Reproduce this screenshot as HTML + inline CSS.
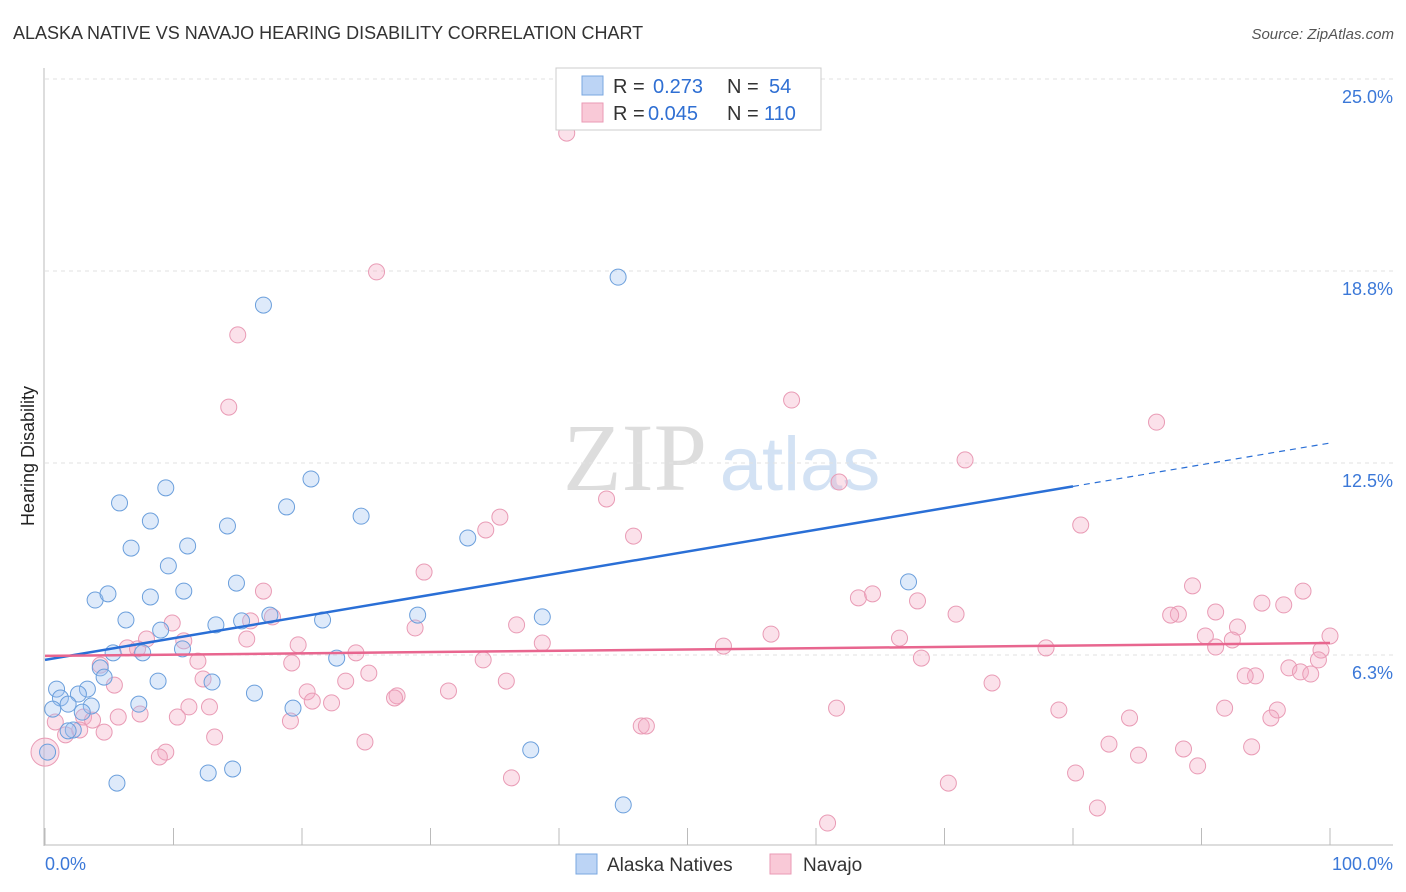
<!DOCTYPE html>
<html><head><meta charset="utf-8"><style>
body{margin:0;background:#fff;font-family:"Liberation Sans",sans-serif;}
svg{display:block}
</style></head><body>
<svg id="chart" width="1406" height="892">
<text x="13" y="39" font-size="18" fill="#333">ALASKA NATIVE VS NAVAJO HEARING DISABILITY CORRELATION CHART</text>
<text x="1394" y="39" font-size="15" fill="#555" font-style="italic" text-anchor="end">Source: ZipAtlas.com</text>
<g>
<text x="635" y="490" font-size="96" fill="#ddd" font-family="Liberation Serif,serif" text-anchor="middle">ZIP</text>
<text x="800" y="490" font-size="76" fill="#d3e2f4" text-anchor="middle">atlas</text>
</g>
<g id="grid"></g><g id="axes"></g><g id="marks"></g>
<text transform="translate(34,456) rotate(-90)" font-size="18" fill="#222" text-anchor="middle">Hearing Disability</text>
<g>
<rect x="556" y="68" width="265" height="62" fill="#fff" stroke="#ccc"/>
<rect x="582" y="76" width="21" height="19" fill="#bcd4f5" stroke="#7aa7e0"/>
<rect x="582" y="103" width="21" height="19" fill="#f9c9d7" stroke="#ea9ab4"/>
<text y="93" font-size="20" fill="#333"><tspan x="613">R =</tspan><tspan x="653" fill="#2f6fd3">0.273</tspan><tspan x="727">N =</tspan><tspan x="769" fill="#2f6fd3">54</tspan></text>
<text y="120" font-size="20" fill="#333"><tspan x="613">R =</tspan><tspan x="648" fill="#2f6fd3">0.045</tspan><tspan x="727">N =</tspan><tspan x="764" fill="#2f6fd3">110</tspan></text>
</g>
<g>
<rect x="576" y="854" width="21" height="20" fill="#bcd4f5" stroke="#7aa7e0"/>
<text x="607" y="871" font-size="19" fill="#333">Alaska Natives</text>
<rect x="770" y="854" width="21" height="20" fill="#f9c9d7" stroke="#ea9ab4"/>
<text x="803" y="871" font-size="19" fill="#333">Navajo</text>
</g>
</svg>
<script>
const yTicks=[6.3,12.5,18.8,25.0];
const yTickVals=[6.25,12.5,18.75,25];
const xTickLabels=["0.0%","100.0%"];
const blueX=[17.0,44.6,9.4,5.8,20.7,8.2,18.8,24.6,14.2,32.9,6.7,11.1,9.6,14.9,67.2,3.9,4.9,8.2,10.8,6.3,17.5,15.3,21.6,29.0,38.7,13.3,9.0,5.3,7.6,10.7,22.7,4.3,4.6,8.8,13.0,0.9,3.3,16.3,2.6,1.2,1.8,3.6,7.3,0.6,19.3,2.9,2.2,1.8,37.8,0.2,12.7,14.6,5.6,45.0];
const blueY=[17.64,18.55,11.69,11.20,11.98,10.61,11.07,10.77,10.45,10.06,9.73,9.80,9.15,8.59,8.63,8.04,8.24,8.14,8.33,7.39,7.55,7.36,7.39,7.55,7.49,7.23,7.06,6.32,6.32,6.45,6.15,5.83,5.53,5.40,5.37,5.14,5.14,5.01,4.98,4.85,4.65,4.59,4.65,4.49,4.52,4.39,3.81,3.78,3.16,3.09,2.41,2.54,2.08,1.37];
const pinkX=[40.6,25.8,15.0,14.3,58.1,86.5,71.6,61.8,43.7,35.4,34.3,80.6,45.8,29.5,17.0,89.3,97.9,63.3,64.4,67.9,94.7,96.4,88.2,87.6,70.9,91.1,17.7,9.9,16.0,28.8,36.7,92.8,7.9,15.7,10.8,19.7,38.7,56.5,90.3,66.5,92.4,77.9,100.0,6.4,7.2,24.2,52.8,91.1,99.3,68.2,34.1,11.9,4.3,19.2,99.1,96.8,97.7,25.2,98.5,94.2,93.4,5.4,12.3,23.4,35.9,73.7,31.4,20.4,27.4,27.2,20.8,22.3,11.2,12.8,61.6,78.9,91.8,95.9,7.4,3.0,5.7,10.3,3.7,19.1,84.4,95.4,46.4,46.8,0.8,4.6,1.6,2.7,13.2,24.9,82.8,9.4,8.9,88.6,93.9,85.1,89.7,80.2,36.3,70.3,81.9,60.9,0.0];
const pinkY=[23.24,18.72,16.67,14.32,14.55,13.83,12.60,11.88,11.33,10.74,10.32,10.48,10.12,8.95,8.33,8.50,8.33,8.11,8.24,8.01,7.94,7.88,7.58,7.55,7.58,7.65,7.49,7.29,7.36,7.13,7.23,7.16,6.77,6.77,6.71,6.58,6.64,6.93,6.87,6.80,6.74,6.48,6.87,6.48,6.45,6.32,6.54,6.51,6.41,6.15,6.09,6.05,5.92,5.99,6.09,5.83,5.70,5.66,5.63,5.57,5.57,5.27,5.47,5.40,5.40,5.34,5.08,5.05,4.92,4.85,4.75,4.69,4.56,4.56,4.52,4.46,4.52,4.46,4.33,4.23,4.23,4.23,4.13,4.10,4.20,4.20,3.94,3.94,4.07,3.74,3.65,3.81,3.58,3.42,3.35,3.09,2.93,3.19,3.26,2.99,2.64,2.41,2.25,2.08,1.27,0.78,3.09];
const blueTrend=[6.09,13.15];
const pinkTrend=[6.22,6.64];
const blueSolidEnd=80;

const NS="http://www.w3.org/2000/svg";
const X=v=>45+v*12.85;
const Y=v=>847-v*30.72;
function mk(tag,attrs,parent){const e=document.createElementNS(NS,tag);for(const k in attrs)e.setAttribute(k,attrs[k]);document.getElementById(parent).appendChild(e);return e;}
yTickVals.forEach((v,i)=>{
 const g=mk('line',{x1:45,x2:1393,y1:Y(v),y2:Y(v),stroke:'#e2e2e2','stroke-dasharray':'4,4'},'grid');
 
 
 const t=mk('text',{x:1393,y:Y(v)+24,'font-size':18,fill:'#3b78d8','text-anchor':'end'},'axes');
 t.textContent=yTicks[i].toFixed(1)+'%';
 
 
});
const ya=mk('line',{x1:44,x2:44,y1:68,y2:846,stroke:'#bbb'},'axes');


const xa=mk('line',{x1:44,x2:1393,y1:845,y2:845,stroke:'#bbb'},'axes');


for(let i=0;i<=10;i++){
 const tk=mk('line',{x1:X(i*10),x2:X(i*10),y1:828,y2:845,stroke:'#bbb'},'axes');
 
 
}
[[0,'start',45],[100,'end',1393]].forEach((d,i)=>{
 const t=mk('text',{x:d[2],y:870,'font-size':18,fill:'#3b78d8','text-anchor':d[1]},'axes');
 t.textContent=xTickLabels[i];
 
 
});
pinkX.forEach((x,i)=>{
 const big=(i===pinkX.length-1);
 const c=mk('circle',{cx:X(x),cy:Y(pinkY[i]),r:big?14:8,fill:'rgba(244,170,195,0.35)',stroke:'#e99bb5','stroke-width':1},'marks');
 
 
});
blueX.forEach((x,i)=>{
 const c=mk('circle',{cx:X(x),cy:Y(blueY[i]),r:8,fill:'rgba(160,195,240,0.35)',stroke:'#6b9fdc','stroke-width':1},'marks');
 
 
});
const bAt=v=>blueTrend[0]+(blueTrend[1]-blueTrend[0])*v/100;
const l1=mk('line',{x1:X(0),y1:Y(bAt(0)),x2:X(blueSolidEnd),y2:Y(bAt(blueSolidEnd)),stroke:'#2a6fd6','stroke-width':2.5},'marks');


const l2=mk('line',{x1:X(blueSolidEnd),y1:Y(bAt(blueSolidEnd)),x2:X(100),y2:Y(bAt(100)),stroke:'#2a6fd6','stroke-width':1.2,'stroke-dasharray':'6,5'},'marks');


const l3=mk('line',{x1:X(0),y1:Y(pinkTrend[0]),x2:X(100),y2:Y(pinkTrend[1]),stroke:'#e8668f','stroke-width':2.5},'marks');


</script>
</body></html>
